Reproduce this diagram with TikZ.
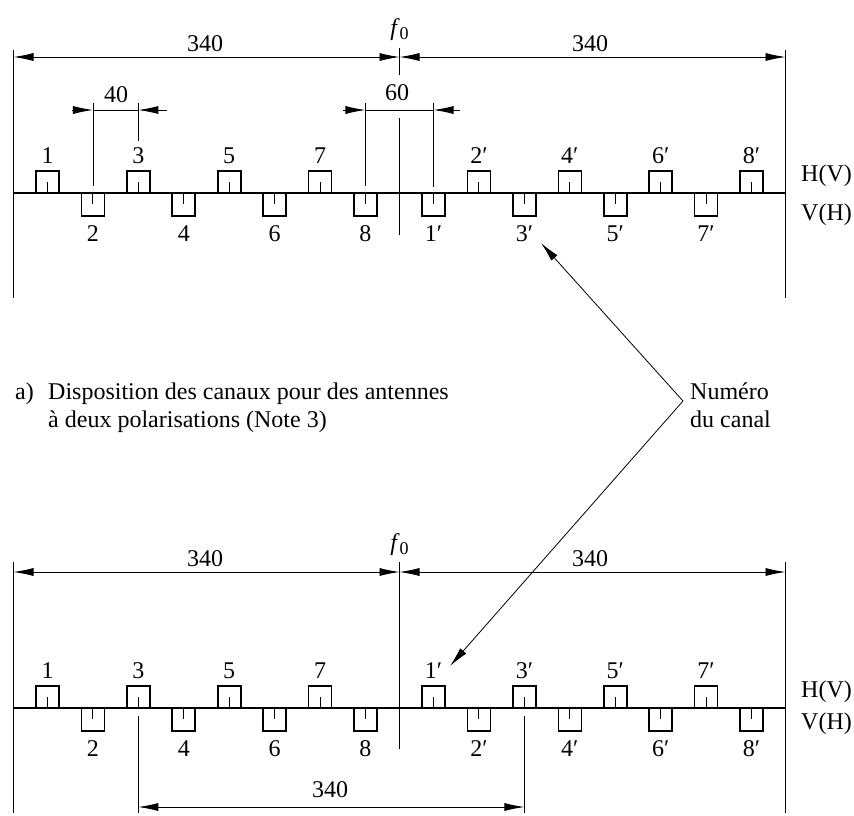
\documentclass[tikz,border=0pt]{standalone}
\usepackage{fontspec}
\setmainfont{Liberation Serif}
\usetikzlibrary{arrows.meta}
\newcommand\chup[4]{%
  \draw[boxline] ({#1-11.5},#2) -- ++(0,-22) -- ++(23,0) -- ++(0,22);
  \draw[tickline] (#1,#2) -- ++(0,-11);
  \node[lbl] (#4) at (#1,{#2-37}) {#3};}
\newcommand\chdn[4]{%
  \draw[boxline] ({#1-11.5},#2) -- ++(0,23) -- ++(23,0) -- ++(0,-23);
  \draw[tickline] (#1,#2) -- ++(0,11);
  \node[lbl] (#4) at (#1,{#2+41}) {#3};}
\begin{document}
\begin{tikzpicture}[x=1pt,y=-1pt,
  thinline/.style={line width=0.8pt},
  tickline/.style={line width=1pt},
  boxline/.style={line width=1.6pt},
  baseln/.style={line width=1.2pt},
  tipa/.tip={Latex[length=20pt,width=8pt]},
  lbl/.style={font=\fontsize{24}{29}\selectfont, inner sep=0pt},
]
\useasboundingbox (0,0) rectangle (854,815);
\def\fz{399.5}
\def\kk{1.1353}
% ================= top diagram =================
\draw[baseln] (13.5,193) -- (785.5,193);
\foreach \n in {1,...,8}{
  \pgfmathsetmacro\cx{\fz+\kk*(-310+40*(\n-1))}
  \pgfmathsetmacro\cpx{\fz+\kk*(30+40*(\n-1))}
  \ifodd\n
    \chup{\cx}{193}{\n}{t\n}
    \chdn{\cpx}{193}{\n′}{tp\n}
  \else
    \chdn{\cx}{193}{\n}{t\n}
    \chup{\cpx}{193}{\n′}{tp\n}
  \fi
}
\coordinate (tl1) at (13.5,50);  \coordinate (tl2) at (13.5,298);
\coordinate (tr1) at (785.5,50); \coordinate (tr2) at (785.5,298);
\draw[thinline] (tl1) -- (tl2);
\draw[thinline] (tr1) -- (tr2);
\coordinate (tla) at (13.5,57); \coordinate (tfa) at (\fz,57); \coordinate (tra) at (785.5,57);
\draw[thinline,tipa-tipa] (tla) -- (tfa);
\draw[thinline,tipa-tipa] (tfa) -- (tra);
\draw[thinline] (\fz,48) -- (\fz,75);
\node[lbl] (tf0) at (\fz,30) {\textit{f}\raisebox{-0.35ex}{\fontsize{18}{18}\selectfont 0}};
\node[lbl] (t340a) at (205,44) {340};
\node[lbl] (t340b) at (590,44) {340};
% 40 dimension
\pgfmathsetmacro\xa{\fz+\kk*(-270)}
\pgfmathsetmacro\xb{\fz+\kk*(-230)}
\draw[thinline] (\xa,103) -- (\xa,186);
\draw[thinline] (\xb,103) -- (\xb,141);
\draw[thinline,-tipa] (72,110) -- (\xa,110);
\draw[thinline,-tipa] (167,110) -- (\xb,110);
\draw[thinline] (\xa,110) -- (\xb,110);
\node[lbl] (t40) at (116,95) {40};
% 60 dimension
\pgfmathsetmacro\xc{\fz+\kk*(-30)}
\pgfmathsetmacro\xd{\fz+\kk*(30)}
\draw[thinline] (\xc,103) -- (\xc,186);
\draw[thinline] (\xd,103) -- (\xd,187);
\draw[thinline,-tipa] (343,110) -- (\xc,110);
\draw[thinline,-tipa] (460,110) -- (\xd,110);
\draw[thinline] (\xc,110) -- (\xd,110);
\node[lbl] (t60) at (397,93) {60};
\draw[thinline] (\fz,118) -- (\fz,235);
\node[lbl,anchor=west] (thv) at (801,176) {H(V)};
\node[lbl,anchor=west] (tvh) at (801,215) {V(H)};
% ================= middle text =================
\node[lbl,anchor=base west] (capa) at (15,399) {a)};
\node[lbl,anchor=base west] (capb) at (48,399) {Disposition des canaux pour des antennes};
\node[lbl,anchor=base west] (capc) at (48,427) {à deux polarisations (Note 3)};
\node[lbl,anchor=base west] (num) at (690,399) {Numéro};
\node[lbl,anchor=base west] (ducanal) at (690,427) {du canal};
\coordinate (conv) at (683,401);
\coordinate (tip1) at (541,243);
\coordinate (tip2) at (450,666);
\draw[thinline,-tipa] (conv) -- (tip1);
\draw[thinline,-tipa] (conv) -- (tip2);
% ================= bottom diagram =================
\draw[baseln] (13.5,708) -- (785.5,708);
\foreach \n in {1,...,8}{
  \pgfmathsetmacro\cx{\fz+\kk*(-310+40*(\n-1))}
  \pgfmathsetmacro\cpx{\fz+\kk*(30+40*(\n-1))}
  \ifodd\n
    \chup{\cx}{708}{\n}{b\n}
    \chup{\cpx}{708}{\n′}{bp\n}
  \else
    \chdn{\cx}{708}{\n}{b\n}
    \chdn{\cpx}{708}{\n′}{bp\n}
  \fi
}
\coordinate (bl1) at (13.5,562);  \coordinate (bl2) at (13.5,813);
\coordinate (br1) at (785.5,562); \coordinate (br2) at (785.5,813);
\draw[thinline] (bl1) -- (bl2);
\draw[thinline] (br1) -- (br2);
\coordinate (bla) at (13.5,572); \coordinate (bfa) at (\fz,572); \coordinate (bra) at (785.5,572);
\draw[thinline,tipa-tipa] (bla) -- (bfa);
\draw[thinline,tipa-tipa] (bfa) -- (bra);
\draw[thinline] (\fz,562) -- (\fz,749);
\node[lbl] (bf0) at (\fz,545) {\textit{f}\raisebox{-0.35ex}{\fontsize{18}{18}\selectfont 0}};
\node[lbl] (b340a) at (205,559) {340};
\node[lbl] (b340b) at (590,559) {340};
\pgfmathsetmacro\xe{\fz+\kk*(-230)}
\pgfmathsetmacro\xf{\fz+\kk*(110)}
\coordinate (be1) at (\xe,716); \coordinate (be2) at (\xe,813);
\coordinate (bf1) at (\xf,716); \coordinate (bf2) at (\xf,813);
\draw[thinline] (be1) -- (be2);
\draw[thinline] (bf1) -- (bf2);
\draw[thinline,tipa-tipa] (\xe,807) -- (\xf,807);
\node[lbl] (b340c) at (330,790) {340};
\node[lbl,anchor=west] (bhv) at (801,692) {H(V)};
\node[lbl,anchor=west] (bvh) at (801,724) {V(H)};
\end{tikzpicture}
\end{document}
